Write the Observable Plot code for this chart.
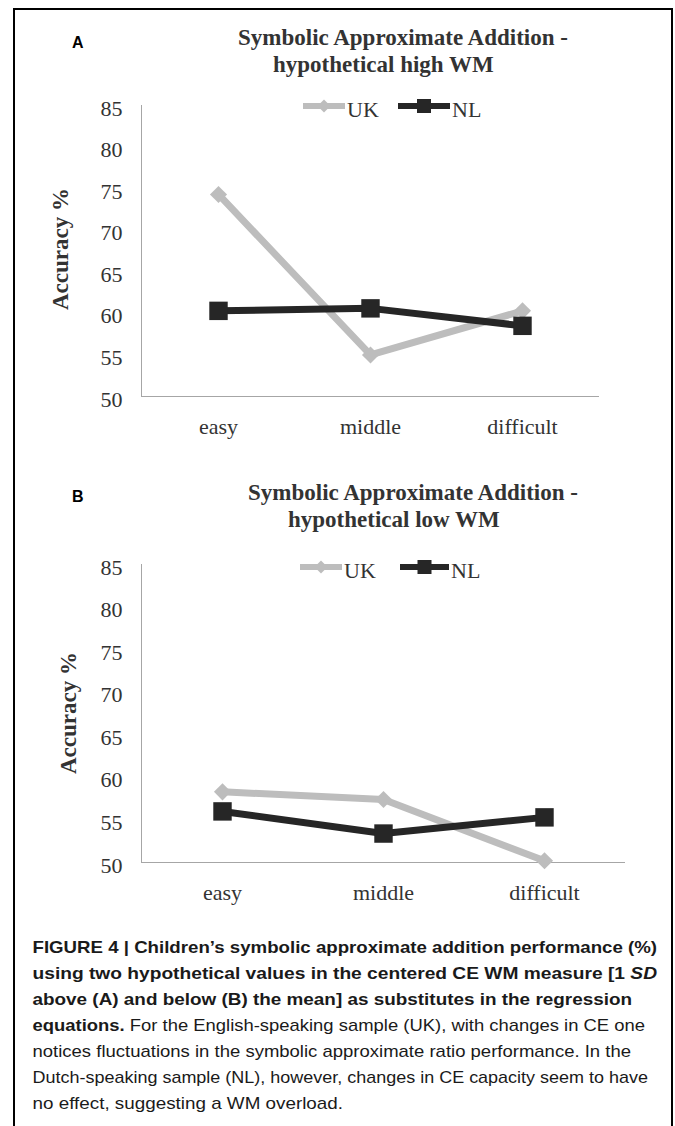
<!DOCTYPE html>
<html>
<head>
<meta charset="utf-8">
<script src="https://cdn.jsdelivr.net/npm/d3@7"></script>
<script src="https://cdn.jsdelivr.net/npm/@observablehq/plot@0.6"></script>
<style>
  html, body { margin: 0; padding: 0; background: #fff; overflow: hidden; }
  #page { position: relative; width: 675px; height: 1126px; overflow: hidden; }
  #frame { position: absolute; left: 13px; top: 8px; width: 660px; height: 1140px; box-sizing: border-box; border: 2.5px solid #000; }
  .panel { position: absolute; left: 0; }
  .panel svg { overflow: visible; }
  #caption { position: absolute; left: 0; top: 920px; }
</style>
</head>
<body>
<div id="page">
  <div id="frame"></div>
  <div id="panelA" class="panel" style="top:0px"></div>
  <div id="panelB" class="panel" style="top:470px"></div>
  <div id="caption"></div>
</div>
<script>
// ---- data ----
const categories = ["easy", "middle", "difficult"];
const seriesNames = ["UK", "NL"];
const highUK = [74.3, 55.0, 60.3];
const highNL = [60.3, 60.6, 58.5];
const lowUK = [58.3, 57.4, 50.2];
const lowNL = [56.0, 53.4, 55.3];
const yTicks = [50, 55, 60, 65, 70, 75, 80, 85];
const seriesColors = ["#bdbdbd", "#262626"];
const panelLabels = ["A", "B"];
const panelTitles = [
  ["Symbolic Approximate Addition -", "hypothetical high WM"],
  ["Symbolic Approximate Addition -", "hypothetical low WM"]
];
const yLabel = "Accuracy %";

const serif = "'Liberation Serif', 'Times New Roman', serif";
const sans = "'Liberation Sans', Arial, sans-serif";

function makePanel(ukVals, nlVals, idx, cfg) {
  const rows = [];
  categories.forEach((c, i) => {
    rows.push({level: c, series: "UK", value: ukVals[i]});
    rows.push({level: c, series: "NL", value: nlVals[i]});
  });
  const uk = rows.filter(d => d.series === "UK");
  const nl = rows.filter(d => d.series === "NL");
  const axisColor = "#a6a6a6";
  const svgEl = Plot.plot({
    width: 675,
    height: cfg.height,
    marginLeft: 141,
    marginRight: cfg.mr,
    marginTop: cfg.mt,
    marginBottom: cfg.mb,
    style: {fontFamily: serif, fontSize: "22px", color: "#333", background: "transparent", overflow: "visible"},
    x: {type: "point", domain: categories, padding: 0.5},
    y: {domain: [50, 85]},
    color: {domain: seriesNames, range: seriesColors},
    marks: [
      Plot.frame({anchor: "left", stroke: axisColor}),
      Plot.ruleY([50], {stroke: axisColor}),
      Plot.axisY({ticks: yTicks, tickSize: 0, tickPadding: 19, label: null, dy: 3, fontSize: 22}),
      Plot.axisX({tickSize: 0, tickPadding: 22, label: null, fontSize: 22}),
      Plot.line(uk, {x: "level", y: "value", stroke: "series", strokeWidth: 7}),
      Plot.dot(uk, {x: "level", y: "value", fill: "series", symbol: "diamond2", r: 7.7}),
      Plot.line(nl, {x: "level", y: "value", stroke: "series", strokeWidth: 7}),
      Plot.dot(nl, {x: "level", y: "value", fill: "series", symbol: "square", r: 10.4})
    ]
  });
  const svg = d3.select(svgEl);

  // panel letter
  svg.append("text").attr("x", 72).attr("y", cfg.labelBase).attr("text-anchor", "start")
    .attr("font-family", sans).attr("font-weight", "bold").attr("font-size", 16).attr("fill", "#000")
    .text(panelLabels[idx]);

  // title lines
  panelTitles[idx].forEach((t, i) => {
    svg.append("text").attr("x", cfg.titleX[i]).attr("y", cfg.titleBase[i]).attr("text-anchor", "start")
      .attr("font-family", serif).attr("font-weight", "bold").attr("font-size", 23).attr("fill", "#333")
      .text(t);
  });

  // y axis title
  svg.append("text")
    .attr("transform", `translate(${cfg.yTitleX},${cfg.yTitleY}) rotate(-90)`)
    .attr("text-anchor", "middle")
    .attr("font-family", serif).attr("font-weight", "bold").attr("font-size", 23).attr("fill", "#333")
    .text(yLabel);

  // legend
  const lg = cfg.legend;
  seriesNames.forEach((s, i) => {
    const [x1, x2] = lg.lines[i];
    const cx = (x1 + x2) / 2;
    const g = svg.append("g");
    g.append("line").attr("x1", x1).attr("x2", x2).attr("y1", lg.y).attr("y2", lg.y)
      .attr("stroke", seriesColors[i]).attr("stroke-width", 6);
    if (s === "UK") {
      const h = 6.5;
      g.append("path").attr("d", `M${cx},${lg.y - h}L${cx + h},${lg.y}L${cx},${lg.y + h}L${cx - h},${lg.y}Z`)
        .attr("fill", seriesColors[i]);
    } else {
      g.append("rect").attr("x", cx - 7).attr("y", lg.y - 7).attr("width", 14).attr("height", 14)
        .attr("fill", seriesColors[i]);
    }
    g.append("text").attr("x", lg.textX[i]).attr("y", lg.textBase).attr("text-anchor", "start")
      .attr("font-family", serif).attr("font-size", 22).attr("fill", "#333").text(s);
  });
  return svgEl;
}

document.getElementById("panelA").appendChild(makePanel(highUK, highNL, 0, {
  height: 470, mt: 105, mb: 74, mr: 76,
  labelBase: 48, titleX: [238, 273], titleBase: [45.3, 72],
  yTitleX: 68, yTitleY: 249,
  legend: {y: 106, textBase: 117, lines: [[303, 345], [398, 450]], textX: [347, 452]}
}));

document.getElementById("panelB").appendChild(makePanel(lowUK, lowNL, 1, {
  height: 455, mt: 94, mb: 63, mr: 50,
  labelBase: 32, titleX: [248, 288], titleBase: [30, 57],
  yTitleX: 76, yTitleY: 243,
  legend: {y: 97, textBase: 108, lines: [[300, 342], [400, 449]], textX: [344, 451]}
}));

// ---- caption ----
const captionLines = [
  {end: 657, parts: [{t: "FIGURE 4 | Children\u2019s symbolic approximate addition performance (%)", w: "bold"}]},
  {end: 657, parts: [{t: "using two hypothetical values in the centered CE WM measure [1 ", w: "bold"}, {t: "SD", w: "bold", i: true}]},
  {end: 632, parts: [{t: "above (A) and below (B) the mean] as substitutes in the regression", w: "bold"}]},
  {end: 645, parts: [{t: "equations.", w: "bold"}, {t: " For the English-speaking sample (UK), with changes in CE one", w: "normal"}]},
  {end: 631, parts: [{t: "notices fluctuations in the symbolic approximate ratio performance. In the", w: "normal"}]},
  {end: 648, parts: [{t: "Dutch-speaking sample (NL), however, changes in CE capacity seem to have", w: "normal"}]},
  {end: 343, parts: [{t: "no effect, suggesting a WM overload.", w: "normal"}]}
];
const capSvg = d3.select("#caption").append("svg").attr("width", 675).attr("height", 210);
captionLines.forEach((ln, i) => {
  const t = capSvg.append("text")
    .attr("x", 32.5).attr("y", 33 + i * 26)
    .attr("font-family", sans).attr("font-size", 17).attr("fill", "#1a1a1a")
    .attr("textLength", ln.end - 32.5).attr("lengthAdjust", "spacingAndGlyphs");
  ln.parts.forEach(p => {
    const ts = t.append("tspan").attr("font-weight", p.w).text(p.t);
    if (p.i) ts.attr("font-style", "italic");
  });
});
</script>
</body>
</html>
